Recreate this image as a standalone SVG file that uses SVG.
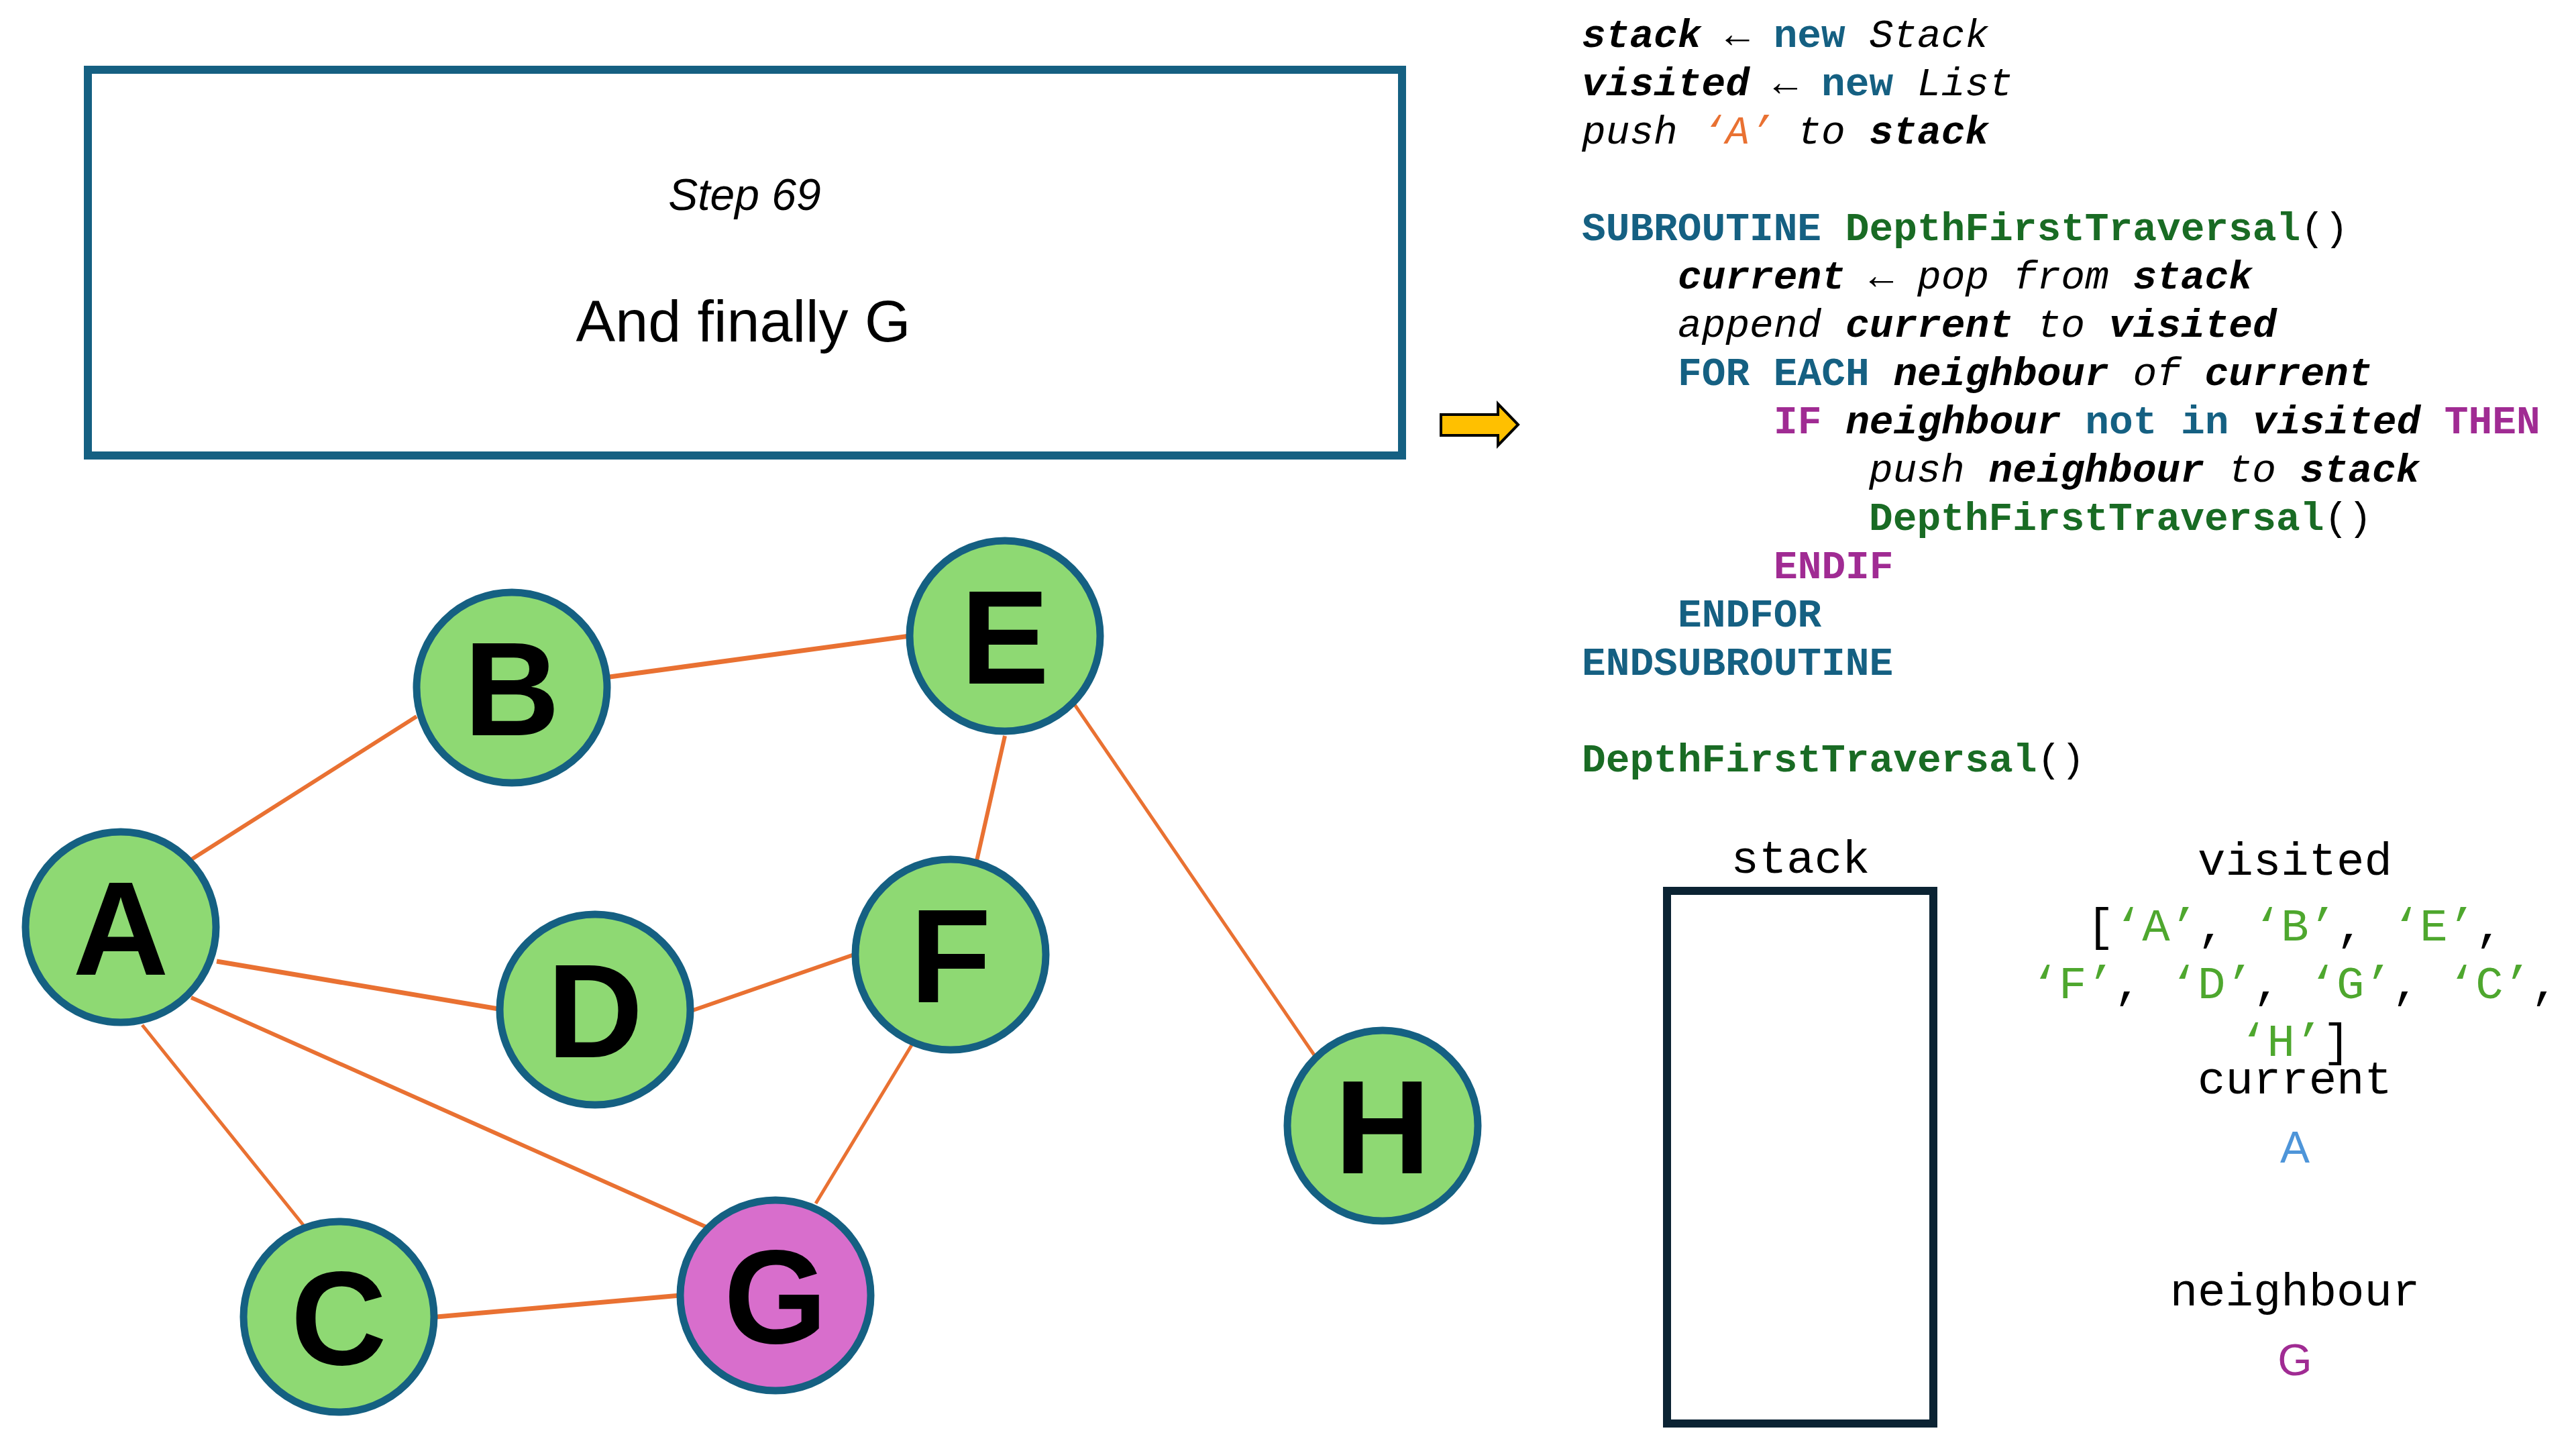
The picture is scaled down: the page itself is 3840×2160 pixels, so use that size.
<svg xmlns="http://www.w3.org/2000/svg" width="3840" height="2160" viewBox="0 0 3840 2160">
  <style>
    .edge { stroke: #E97132; stroke-linecap: butt; fill: none; }
    .node { fill: #8ED973; stroke: #156082; stroke-width: 11; }
    .node.hot { fill: #D86ECC; }
    .lbl { font-family: "Liberation Sans", Arial, sans-serif; font-weight: bold; font-size: 198px; text-anchor: middle; fill: #000; }
    .code { font-family: "Liberation Mono", "Courier New", monospace; font-size: 59.5px; fill: #000; white-space: pre; }
    .v { font-weight: bold; font-style: italic; }
    .it { font-style: italic; }
    .kw { font-weight: bold; fill: #156082; }
    .fn { font-weight: bold; fill: #196B24; }
    .cond { font-weight: bold; fill: #A02B93; }
    .str { fill: #E97132; font-style: italic; }
    .mono { font-family: "Liberation Mono", "Courier New", monospace; font-size: 69px; fill: #000; text-anchor: middle; white-space: pre; }
    .g { fill: #4EA72E; }
    .title { font-family: "Liberation Sans", Arial, sans-serif; text-anchor: middle; fill: #000; }
    .val { font-family: "Liberation Sans", Arial, sans-serif; font-size: 66px; text-anchor: middle; }
  </style>

  <rect width="3840" height="2160" fill="#FFFFFF"/>

  <!-- caption box -->
  <g id="caption">
    <rect x="131" y="104" width="1959" height="575" fill="#FFFFFF" stroke="#156082" stroke-width="12"/>
    <text class="title" x="1110" y="313" font-size="66" font-style="italic">Step 69</text>
    <text class="title" x="1108" y="509" font-size="88">And finally G</text>
  </g>

  <!-- current-line pointer -->
  <g id="pointer">
    <polygon points="2148,618 2233,618 2233,602 2263,633 2233,664 2233,649 2148,649" fill="#FFC000" stroke="#000000" stroke-width="4" stroke-linejoin="miter"/>
  </g>

  <!-- graph edges -->
  <g id="connectors">
    <line class="edge" x1="284" y1="1282" x2="621" y2="1068" stroke-width="6"/>
    <line class="edge" x1="909" y1="1009" x2="1356" y2="948" stroke-width="7"/>
    <line class="edge" x1="1498" y1="1097" x2="1456" y2="1283" stroke-width="6"/>
    <line class="edge" x1="1601" y1="1049" x2="1962" y2="1577" stroke-width="5"/>
    <line class="edge" x1="323" y1="1433" x2="743" y2="1504" stroke-width="7"/>
    <line class="edge" x1="1030" y1="1507" x2="1276" y2="1422" stroke-width="6"/>
    <line class="edge" x1="285" y1="1487" x2="1055" y2="1830" stroke-width="6"/>
    <line class="edge" x1="212" y1="1528" x2="456" y2="1831" stroke-width="5"/>
    <line class="edge" x1="1362" y1="1553" x2="1216" y2="1794" stroke-width="5"/>
    <line class="edge" x1="651" y1="1963" x2="1014" y2="1931" stroke-width="7"/>
  </g>

  <!-- graph nodes -->
  <g id="node-A"><circle class="node" cx="180" cy="1382" r="142"/><text class="lbl" x="180" y="1453">A</text></g>
  <g id="node-B"><circle class="node" cx="763" cy="1025" r="142"/><text class="lbl" x="763" y="1096">B</text></g>
  <g id="node-E"><circle class="node" cx="1498" cy="948" r="142"/><text class="lbl" x="1498" y="1019">E</text></g>
  <g id="node-D"><circle class="node" cx="887" cy="1505" r="142"/><text class="lbl" x="887" y="1576">D</text></g>
  <g id="node-F"><circle class="node" cx="1417" cy="1423" r="142"/><text class="lbl" x="1417" y="1494">F</text></g>
  <g id="node-H"><circle class="node" cx="2061" cy="1678" r="142"/><text class="lbl" x="2061" y="1749">H</text></g>
  <g id="node-C"><circle class="node" cx="505" cy="1963" r="142"/><text class="lbl" x="505" y="2034">C</text></g>
  <g id="node-G"><circle class="node hot" cx="1156" cy="1931" r="142"/><text class="lbl" x="1156" y="2002">G</text></g>

  <!-- pseudocode listing -->
  <g id="pseudocode">
    <text class="code" x="2358" y="70"><tspan class="v">stack</tspan> ← <tspan class="kw">new</tspan> <tspan class="it">Stack</tspan></text>
    <text class="code" x="2358" y="142"><tspan class="v">visited</tspan> ← <tspan class="kw">new</tspan> <tspan class="it">List</tspan></text>
    <text class="code" x="2358" y="214"><tspan class="it">push</tspan> <tspan class="str">‘A’</tspan> <tspan class="it">to</tspan> <tspan class="v">stack</tspan></text>
    <text class="code" x="2358" y="358"><tspan class="kw">SUBROUTINE</tspan> <tspan class="fn">DepthFirstTraversal</tspan>()</text>
    <text class="code" x="2501" y="430"><tspan class="v">current</tspan> ← <tspan class="it">pop from</tspan> <tspan class="v">stack</tspan></text>
    <text class="code" x="2501" y="502"><tspan class="it">append</tspan> <tspan class="v">current</tspan> <tspan class="it">to</tspan> <tspan class="v">visited</tspan></text>
    <text class="code" x="2501" y="574"><tspan class="kw">FOR EACH</tspan> <tspan class="v">neighbour</tspan> <tspan class="it">of</tspan> <tspan class="v">current</tspan></text>
    <text class="code" x="2644" y="646"><tspan class="cond">IF</tspan> <tspan class="v">neighbour</tspan> <tspan class="kw">not in</tspan> <tspan class="v">visited</tspan> <tspan class="cond">THEN</tspan></text>
    <text class="code" x="2786" y="718"><tspan class="it">push</tspan> <tspan class="v">neighbour</tspan> <tspan class="it">to</tspan> <tspan class="v">stack</tspan></text>
    <text class="code" x="2786" y="790"><tspan class="fn">DepthFirstTraversal</tspan>()</text>
    <text class="code" x="2644" y="862"><tspan class="cond">ENDIF</tspan></text>
    <text class="code" x="2501" y="934"><tspan class="kw">ENDFOR</tspan></text>
    <text class="code" x="2358" y="1006"><tspan class="kw">ENDSUBROUTINE</tspan></text>
    <text class="code" x="2358" y="1150"><tspan class="fn">DepthFirstTraversal</tspan>()</text>
  </g>

  <!-- stack contents -->
  <g id="stack">
    <text class="mono" x="2684" y="1301">stack</text>
    <rect x="2485" y="1328" width="397" height="794" fill="#FFFFFF" stroke="#0B2333" stroke-width="12"/>
  </g>

  <!-- visited list -->
  <g id="visited">
    <text class="mono" x="3421" y="1304">visited</text>
    <text class="mono" x="3421" y="1402">[<tspan class="g">‘A’</tspan>, <tspan class="g">‘B’</tspan>, <tspan class="g">‘E’</tspan>,</text>
    <text class="mono" x="3421" y="1488"><tspan class="g">‘F’</tspan>, <tspan class="g">‘D’</tspan>, <tspan class="g">‘G’</tspan>, <tspan class="g">‘C’</tspan>,</text>
    <text class="mono" x="3421" y="1574"><tspan class="g">‘H’</tspan>]</text>
  </g>

  <!-- current vertex -->
  <g id="current">
    <text class="mono" x="3421" y="1630">current</text>
    <text class="val" x="3421" y="1733" fill="#4E95D9">A</text>
  </g>

  <!-- neighbour vertex -->
  <g id="neighbour">
    <text class="mono" x="3421" y="1946">neighbour</text>
    <text class="val" x="3421" y="2050" fill="#A02B93">G</text>
  </g>
</svg>
